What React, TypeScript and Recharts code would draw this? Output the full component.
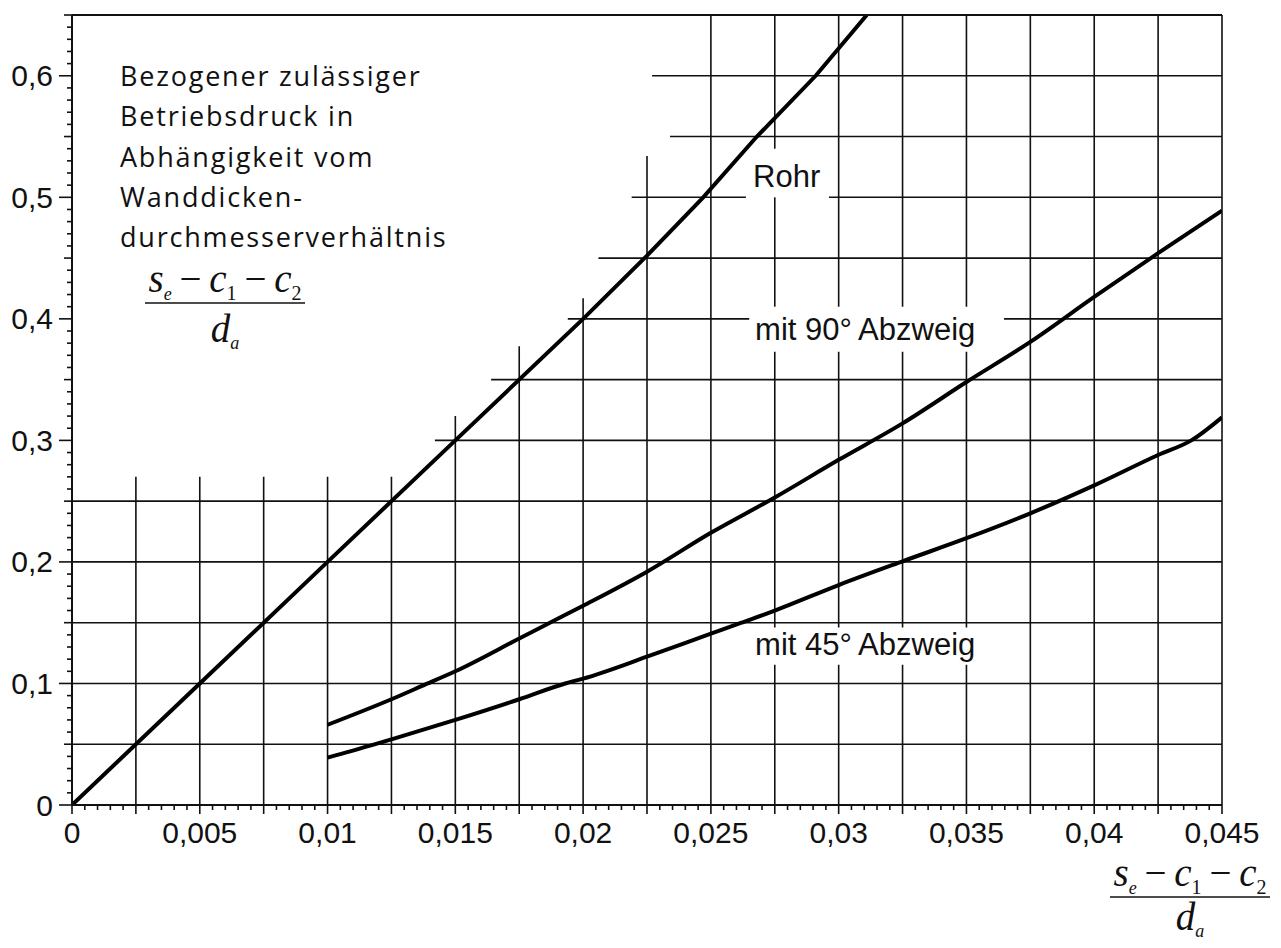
import React from "react";
import { LineChart, Line, XAxis, YAxis, ReferenceLine, ReferenceDot } from "recharts";

// Rohr
const rohrX = [0, 0.005, 0.01, 0.015, 0.02, 0.0225, 0.0247, 0.0268, 0.0291, 0.0311];
const rohrY = [0, 0.1, 0.2, 0.3, 0.4, 0.452, 0.5, 0.55, 0.6, 0.65];

// mit 90° Abzweig
const abzw90X = [0.01, 0.0125, 0.0137, 0.015, 0.0175, 0.0187, 0.02, 0.0225, 0.025, 0.0275, 0.03, 0.0325, 0.035, 0.0375, 0.04, 0.0425, 0.045];
const abzw90Y = [0.066, 0.087, 0.098, 0.11, 0.137, 0.15, 0.164, 0.192, 0.224, 0.253, 0.284, 0.314, 0.348, 0.381, 0.418, 0.454, 0.489];

// mit 45° Abzweig
const abzw45X = [0.01, 0.0117, 0.0125, 0.015, 0.0175, 0.0193, 0.02, 0.0225, 0.025, 0.0262, 0.0275, 0.03, 0.0325, 0.035, 0.0375, 0.04, 0.0425, 0.0438, 0.045];
const abzw45Y = [0.039, 0.049, 0.054, 0.07, 0.087, 0.1, 0.104, 0.122, 0.141, 0.15, 0.16, 0.181, 0.2005, 0.2195, 0.24, 0.263, 0.288, 0.3, 0.319];

const xTickValues = [0, 0.005, 0.01, 0.015, 0.02, 0.025, 0.03, 0.035, 0.04, 0.045];
const xTickLabels = ["0", "0,005", "0,01", "0,015", "0,02", "0,025", "0,03", "0,035", "0,04", "0,045"];
const yTickValues = [0, 0.1, 0.2, 0.3, 0.4, 0.5, 0.6];
const yTickLabels = ["0", "0,1", "0,2", "0,3", "0,4", "0,5", "0,6"];

// grid: horizontal lines and the x where each one starts (text box cut-out)
const hGridY = [0.05, 0.1, 0.15, 0.2, 0.25, 0.3, 0.35, 0.4, 0.45, 0.5, 0.55, 0.6];
const hGridFrom = [0, 0, 0, 0, 0, 0.0142, 0.0164, 0.0194, 0.0206, 0.0219, 0.0234, 0.0227];
// vertical lines and the y where each one ends at the top
const vGridX = [0.0025, 0.005, 0.0075, 0.01, 0.0125, 0.015, 0.0175, 0.02, 0.0225, 0.025, 0.0275, 0.03, 0.0325, 0.035, 0.0375, 0.04, 0.0425, 0.045];
const vGridTo = [0.27, 0.27, 0.27, 0.27, 0.27, 0.32, 0.3775, 0.417, 0.534, 0.65, 0.65, 0.65, 0.65, 0.65, 0.65, 0.65, 0.65, 0.65];

// curve labels (left end of text baseline) and the blank box around each
const curveLabels = [
  { text: "Rohr", x: 0.02665, y: 0.5085, box: { x1: 0.02637, x2: 0.02962, y1: 0.5, y2: 0.54 } },
  { text: "mit 90°\u2009Abzweig", x: 0.02673, y: 0.3826, box: { x1: 0.0265, x2: 0.03647, y1: 0.373, y2: 0.41 } },
  { text: "mit 45°\u2009Abzweig", x: 0.02673, y: 0.1234, box: { x1: 0.0265, x2: 0.0362, y1: 0.1154, y2: 0.146 } },
];

const textBlock = ["Bezogener zulässiger", "Betriebsdruck in", "Abhängigkeit vom", "Wanddicken-", "durchmesserverhältnis"];

const xMinor = Array.from({ length: 91 }, (_, i) => +(i * 0.0005).toFixed(4));
const yMinor = Array.from({ length: 66 }, (_, i) => +(i * 0.01).toFixed(2));

const W = 1281;
const H = 948;
const INK = "#111";
const SANS = '"Liberation Sans", Arial, Helvetica, sans-serif';
const SERIF = '"Liberation Serif", "Times New Roman", serif';

const pts = (xs: number[], ys: number[]) => xs.map((x, i) => ({ x, y: ys[i] }));

const cut = (from: number, to: number, gaps: number[][]) => {
  const segs: number[][] = [];
  let start = from;
  [...gaps].sort((a, b) => a[0] - b[0]).forEach(([a, b]) => {
    if (b <= start || a >= to) return;
    if (a > start) segs.push([start, a]);
    start = Math.max(start, b);
  });
  if (start < to) segs.push([start, to]);
  return segs;
};

const near = (a: number, b: number) => Math.abs(a - b) < 1e-7;

const BottomTick = (p: any) => {
  const { x, y, payload } = p;
  const k = Math.round(payload.value / 0.0005);
  const idx = xTickValues.findIndex((t) => near(t, payload.value));
  return (
    <g>
      <line x1={x} x2={x} y1={y} y2={y + (k % 5 === 0 ? 9 : 5)} stroke={INK} strokeWidth={1.6} />
      {idx >= 0 && (
        <text x={x} y={y + 38} textAnchor="middle" fontFamily={SANS} fontSize={30} fill={INK}>
          {xTickLabels[idx]}
        </text>
      )}
    </g>
  );
};

const LeftTick = (p: any) => {
  const { x, y, payload } = p;
  const k = Math.round(payload.value / 0.01);
  const len = k % 10 === 0 ? 13 : k % 5 === 0 ? 8 : 5;
  const idx = yTickValues.findIndex((t) => near(t, payload.value));
  return (
    <g>
      <line x1={x - len} x2={x} y1={y} y2={y} stroke={INK} strokeWidth={1.6} />
      {idx >= 0 && (
        <text x={x - 19} y={y + 10.5} textAnchor="end" fontFamily={SANS} fontSize={30} fill={INK}>
          {yTickLabels[idx]}
        </text>
      )}
    </g>
  );
};

const TopTick = (p: any) => (
  <line x1={p.x} x2={p.x} y1={p.y} y2={p.y + 12} stroke={INK} strokeWidth={1.6} />
);

const Fraction = ({ cx, base, gap }: { cx: number; base: number; gap: number }) => (
  <g fontFamily={SERIF} fill={INK}>
    <text x={cx} y={base} textAnchor="middle" fontSize={39}>
      <tspan fontStyle="italic">s</tspan>
      <tspan fontStyle="italic" fontSize={18} dy={8}>e</tspan>
      <tspan dy={-8}>{"\u2009\u2212\u2009"}</tspan>
      <tspan fontStyle="italic">c</tspan>
      <tspan fontSize={20} dy={8}>1</tspan>
      <tspan dy={-8}>{"\u2009\u2212\u2009"}</tspan>
      <tspan fontStyle="italic">c</tspan>
      <tspan fontSize={20} dy={8}>2</tspan>
    </text>
    <line x1={cx - 80} x2={cx + 80} y1={base + 11} y2={base + 11} stroke={INK} strokeWidth={1.6} />
    <text x={cx} y={base + gap} textAnchor="middle" fontSize={39}>
      <tspan fontStyle="italic">d</tspan>
      <tspan fontStyle="italic" fontSize={18} dy={7}>a</tspan>
    </text>
  </g>
);

export default function App() {
  const boxes = curveLabels.map((l) => l.box);
  const gridStroke = { stroke: INK, strokeWidth: 1.6 };

  const hLines = hGridY.flatMap((y, i) =>
    cut(
      hGridFrom[i],
      0.045,
      boxes.filter((b) => y >= b.y1 - 1e-9 && y <= b.y2 + 1e-9).map((b) => [b.x1, b.x2])
    ).map(([a, b], j) => (
      <ReferenceLine key={`h${i}-${j}`} segment={[{ x: a, y }, { x: b, y }]} {...gridStroke} />
    ))
  );

  const vLines = vGridX.flatMap((x, i) =>
    cut(
      0,
      vGridTo[i],
      boxes.filter((b) => x >= b.x1 && x <= b.x2).map((b) => [b.y1, b.y2])
    ).map(([a, b], j) => (
      <ReferenceLine key={`v${i}-${j}`} segment={[{ x, y: a }, { x, y: b }]} {...gridStroke} />
    ))
  );

  return (
    <div style={{ position: "absolute", left: 0, top: 0, width: W, height: H, background: "#fff" }}>
      <LineChart width={W} height={H} margin={{ top: 5, right: 59, bottom: 113, left: 12 }}>
        <XAxis
          xAxisId="top"
          orientation="top"
          type="number"
          domain={[0, 0.045]}
          ticks={vGridX}
          interval={0}
          height={10}
          tickSize={0}
          tickMargin={0}
          tickLine={false}
          axisLine={{ stroke: INK, strokeWidth: 2 }}
          tick={TopTick}
          allowDataOverflow
        />
        <XAxis
          dataKey="x"
          type="number"
          domain={[0, 0.045]}
          ticks={xMinor}
          interval={0}
          height={30}
          tickSize={0}
          tickMargin={0}
          tickLine={false}
          axisLine={{ stroke: INK, strokeWidth: 2 }}
          tick={BottomTick}
          allowDataOverflow
        />
        <YAxis
          type="number"
          domain={[0, 0.65]}
          ticks={yMinor}
          interval={0}
          width={60}
          tickSize={0}
          tickMargin={0}
          tickLine={false}
          axisLine={{ stroke: INK, strokeWidth: 2 }}
          tick={LeftTick}
          allowDataOverflow
        />
        {hLines}
        {vLines}
        {curveLabels.map((l) => (
          <ReferenceDot
            key={l.text}
            x={l.x}
            y={l.y}
            r={0}
            fill="none"
            stroke="none"
            label={(p: any) => (
              <text x={p.viewBox.x} y={p.viewBox.y} fontFamily={SANS} fontSize={31} fill={INK}>
                {l.text}
              </text>
            )}
          />
        ))}
        <Line data={pts(rohrX, rohrY)} dataKey="y" type="linear" stroke="#000" strokeWidth={4} dot={false} isAnimationActive={false} />
        <Line data={pts(abzw90X, abzw90Y)} dataKey="y" type="monotone" stroke="#000" strokeWidth={4} dot={false} isAnimationActive={false} />
        <Line data={pts(abzw45X, abzw45Y)} dataKey="y" type="monotone" stroke="#000" strokeWidth={4} dot={false} isAnimationActive={false} />
      </LineChart>
      <svg width={W} height={H} style={{ position: "absolute", left: 0, top: 0, pointerEvents: "none" }}>
        {textBlock.map((t, i) => (
          <text key={t} x={120} y={86 + i * 40.25} fontFamily='"Open Sans", "Noto Sans", sans-serif' fontSize={27} letterSpacing={1.8} fill={INK}>
            {t}
          </text>
        ))}
        <Fraction cx={225} base={292} gap={50} />
        <Fraction cx={1190} base={886} gap={44} />
      </svg>
    </div>
  );
}
